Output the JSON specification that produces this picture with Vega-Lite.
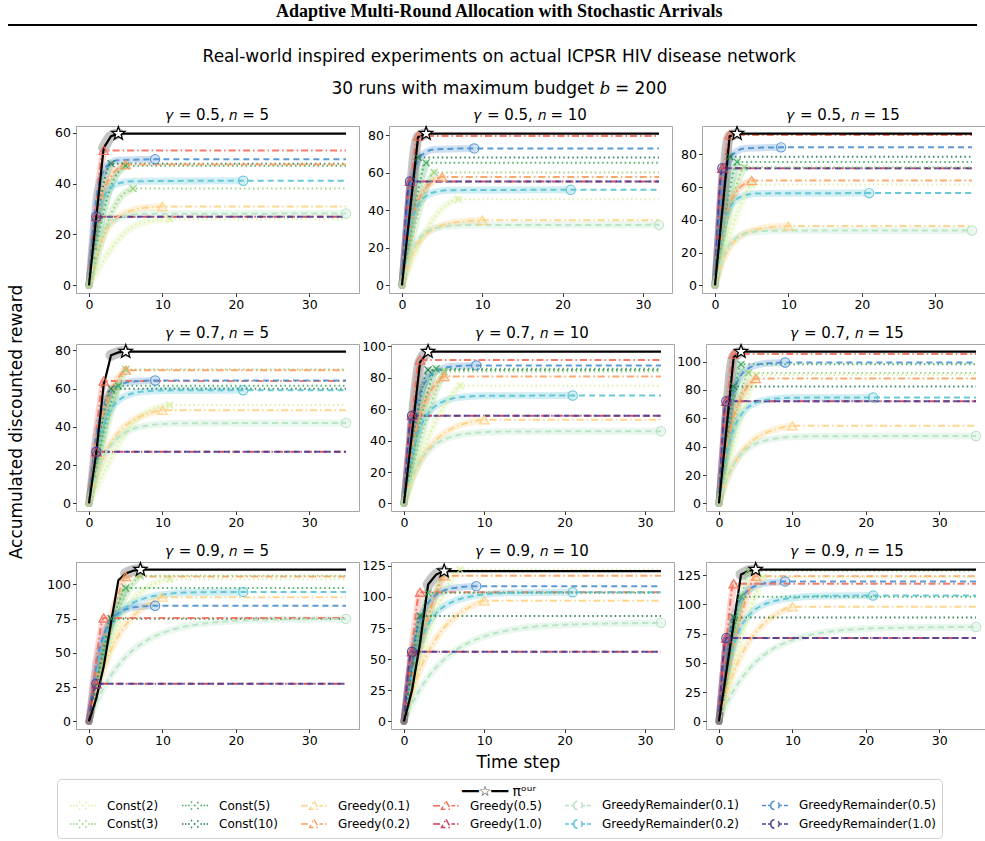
{
  "$schema": "https://vega.github.io/schema/vega-lite/v6.json",
  "padding": {"left": 8, "right": 0, "top": 3, "bottom": 0},
  "background": "white",
  "title": {"text": "Adaptive Multi-Round Allocation with Stochastic Arrivals", "font": "Liberation Serif", "fontSize": 18, "fontWeight": "bold", "anchor": "middle", "offset": 1, "color": "black"},
  "datasets": {
    "methods": [
      {"m": "O", "name": "πᵒᵘʳ", "f": "O"},
      {"m": "C2", "name": "Const(2)", "f": "C"},
      {"m": "C3", "name": "Const(3)", "f": "C"},
      {"m": "C5", "name": "Const(5)", "f": "C"},
      {"m": "C10", "name": "Const(10)", "f": "C"},
      {"m": "G1", "name": "Greedy(0.1)", "f": "G"},
      {"m": "G2", "name": "Greedy(0.2)", "f": "G"},
      {"m": "G5", "name": "Greedy(0.5)", "f": "G"},
      {"m": "G10", "name": "Greedy(1.0)", "f": "G"},
      {"m": "R1", "name": "GreedyRemainder(0.1)", "f": "R"},
      {"m": "R2", "name": "GreedyRemainder(0.2)", "f": "R"},
      {"m": "R5", "name": "GreedyRemainder(0.5)", "f": "R"},
      {"m": "R10", "name": "GreedyRemainder(1.0)", "f": "R"}
    ],
    "panels": [
      {"p": 1, "g": 0.5, "n": 5, "lab": "𝛾 = 0.5, 𝑛 = 5"}, {"p": 2, "g": 0.5, "n": 10, "lab": "𝛾 = 0.5, 𝑛 = 10"}, {"p": 3, "g": 0.5, "n": 15, "lab": "𝛾 = 0.5, 𝑛 = 15"},
      {"p": 4, "g": 0.7, "n": 5, "lab": "𝛾 = 0.7, 𝑛 = 5"}, {"p": 5, "g": 0.7, "n": 10, "lab": "𝛾 = 0.7, 𝑛 = 10"}, {"p": 6, "g": 0.7, "n": 15, "lab": "𝛾 = 0.7, 𝑛 = 15"},
      {"p": 7, "g": 0.9, "n": 5, "lab": "𝛾 = 0.9, 𝑛 = 5"}, {"p": 8, "g": 0.9, "n": 10, "lab": "𝛾 = 0.9, 𝑛 = 10"}, {"p": 9, "g": 0.9, "n": 15, "lab": "𝛾 = 0.9, 𝑛 = 15"}
    ],
    "curves": [
      {"p":1,"m":"O","t":0,"v":0},{"p":1,"m":"O","t":1,"v":27},{"p":1,"m":"O","t":2,"v":54},{"p":1,"m":"O","t":3,"v":58.6},{"p":1,"m":"O","t":4,"v":59.6,"k":1},{"p":1,"m":"O","t":35,"v":59.6},
      {"p":1,"m":"G5","t":0,"v":0},{"p":1,"m":"G5","t":1,"v":33},{"p":1,"m":"G5","t":2,"v":53,"k":1},{"p":1,"m":"G5","t":35,"v":53},
      {"p":1,"m":"G10","t":0,"v":0},{"p":1,"m":"G10","t":1,"v":27,"k":1},{"p":1,"m":"G10","t":35,"v":27},
      {"p":1,"m":"R10","t":0,"v":0},{"p":1,"m":"R10","t":1,"v":27,"k":1},{"p":1,"m":"R10","t":35,"v":27},
      {"p":1,"m":"R5","t":0,"v":0},{"p":1,"m":"R5","t":1,"v":34.7},{"p":1,"m":"R5","t":2,"v":45},{"p":1,"m":"R5","t":3,"v":48.2},{"p":1,"m":"R5","t":4,"v":49.1},{"p":1,"m":"R5","t":9,"v":49.5,"k":1},{"p":1,"m":"R5","t":35,"v":49.5},
      {"p":1,"m":"C10","t":0,"v":0},{"p":1,"m":"C10","t":1,"v":22},{"p":1,"m":"C10","t":2,"v":40},{"p":1,"m":"C10","t":3,"v":47.8,"k":1},{"p":1,"m":"C10","t":35,"v":47.8},
      {"p":1,"m":"C5","t":0,"v":0},{"p":1,"m":"C5","t":1,"v":15},{"p":1,"m":"C5","t":2,"v":29},{"p":1,"m":"C5","t":3,"v":39},{"p":1,"m":"C5","t":4,"v":44.5},{"p":1,"m":"C5","t":5,"v":47,"k":1},{"p":1,"m":"C5","t":35,"v":47},
      {"p":1,"m":"G2","t":0,"v":0},{"p":1,"m":"G2","t":1,"v":24.5},{"p":1,"m":"G2","t":2,"v":36.8},{"p":1,"m":"G2","t":3,"v":42.9},{"p":1,"m":"G2","t":4,"v":46},{"p":1,"m":"G2","t":5,"v":47.5,"k":1},{"p":1,"m":"G2","t":35,"v":47.5},
      {"p":1,"m":"R2","t":0,"v":0},{"p":1,"m":"R2","t":1,"v":24.7},{"p":1,"m":"R2","t":2,"v":34.5},{"p":1,"m":"R2","t":3,"v":38.5},{"p":1,"m":"R2","t":4,"v":40},{"p":1,"m":"R2","t":6,"v":40.9},{"p":1,"m":"R2","t":21,"v":41.1,"k":1},{"p":1,"m":"R2","t":35,"v":41.1},
      {"p":1,"m":"C3","t":0,"v":0},{"p":1,"m":"C3","t":1,"v":10},{"p":1,"m":"C3","t":2,"v":20},{"p":1,"m":"C3","t":3,"v":28},{"p":1,"m":"C3","t":4,"v":33.5},{"p":1,"m":"C3","t":5,"v":36.5},{"p":1,"m":"C3","t":6,"v":38,"k":1},{"p":1,"m":"C3","t":35,"v":38},
      {"p":1,"m":"G1","t":0,"v":0},{"p":1,"m":"G1","t":1,"v":12.5},{"p":1,"m":"G1","t":2,"v":19.9},{"p":1,"m":"G1","t":3,"v":24.3},{"p":1,"m":"G1","t":4,"v":27},{"p":1,"m":"G1","t":5,"v":28.6},{"p":1,"m":"G1","t":6,"v":29.6},{"p":1,"m":"G1","t":8,"v":30.6},{"p":1,"m":"G1","t":10,"v":31,"k":1},{"p":1,"m":"G1","t":35,"v":31},
      {"p":1,"m":"R1","t":0,"v":0},{"p":1,"m":"R1","t":1,"v":14.1},{"p":1,"m":"R1","t":2,"v":21.2},{"p":1,"m":"R1","t":3,"v":24.7},{"p":1,"m":"R1","t":4,"v":26.4},{"p":1,"m":"R1","t":5,"v":27.3},{"p":1,"m":"R1","t":6,"v":27.8},{"p":1,"m":"R1","t":8,"v":28.1},{"p":1,"m":"R1","t":35,"v":28.2,"k":1},
      {"p":1,"m":"C2","t":0,"v":0},{"p":1,"m":"C2","t":1,"v":5},{"p":1,"m":"C2","t":2,"v":10},{"p":1,"m":"C2","t":3,"v":14.5},{"p":1,"m":"C2","t":4,"v":18},{"p":1,"m":"C2","t":5,"v":21},{"p":1,"m":"C2","t":6,"v":23},{"p":1,"m":"C2","t":8,"v":25.2},{"p":1,"m":"C2","t":11,"v":26,"k":1},{"p":1,"m":"C2","t":35,"v":26},

      {"p":2,"m":"O","t":0,"v":0},{"p":2,"m":"O","t":1,"v":40},{"p":2,"m":"O","t":2,"v":79},{"p":2,"m":"O","t":3,"v":81,"k":1},{"p":2,"m":"O","t":32,"v":81},
      {"p":2,"m":"G5","t":0,"v":0},{"p":2,"m":"G5","t":1,"v":48},{"p":2,"m":"G5","t":2,"v":79.7,"k":1},{"p":2,"m":"G5","t":32,"v":79.7},
      {"p":2,"m":"G10","t":0,"v":0},{"p":2,"m":"G10","t":1,"v":55.5,"k":1},{"p":2,"m":"G10","t":32,"v":55.5},
      {"p":2,"m":"R10","t":0,"v":0},{"p":2,"m":"R10","t":1,"v":55.5,"k":1},{"p":2,"m":"R10","t":32,"v":55.5},
      {"p":2,"m":"R5","t":0,"v":0},{"p":2,"m":"R5","t":1,"v":51.2},{"p":2,"m":"R5","t":2,"v":66.5},{"p":2,"m":"R5","t":3,"v":71.1},{"p":2,"m":"R5","t":4,"v":72.5},{"p":2,"m":"R5","t":9,"v":73.1,"k":1},{"p":2,"m":"R5","t":32,"v":73.1},
      {"p":2,"m":"C10","t":0,"v":0},{"p":2,"m":"C10","t":1,"v":38},{"p":2,"m":"C10","t":2,"v":68.3,"k":1},{"p":2,"m":"C10","t":32,"v":68.3},
      {"p":2,"m":"C5","t":0,"v":0},{"p":2,"m":"C5","t":1,"v":26},{"p":2,"m":"C5","t":2,"v":50},{"p":2,"m":"C5","t":3,"v":65.4,"k":1},{"p":2,"m":"C5","t":32,"v":65.4},
      {"p":2,"m":"C3","t":0,"v":0},{"p":2,"m":"C3","t":1,"v":20},{"p":2,"m":"C3","t":2,"v":38},{"p":2,"m":"C3","t":3,"v":52},{"p":2,"m":"C3","t":4,"v":60.3,"k":1},{"p":2,"m":"C3","t":32,"v":60.3},
      {"p":2,"m":"G2","t":0,"v":0},{"p":2,"m":"G2","t":1,"v":29.8},{"p":2,"m":"G2","t":2,"v":44.7},{"p":2,"m":"G2","t":3,"v":52.2},{"p":2,"m":"G2","t":4,"v":55.9},{"p":2,"m":"G2","t":5,"v":57.8,"k":1},{"p":2,"m":"G2","t":32,"v":57.8},
      {"p":2,"m":"R2","t":0,"v":0},{"p":2,"m":"R2","t":1,"v":30.6},{"p":2,"m":"R2","t":2,"v":42.8},{"p":2,"m":"R2","t":3,"v":47.7},{"p":2,"m":"R2","t":4,"v":49.7},{"p":2,"m":"R2","t":6,"v":50.8},{"p":2,"m":"R2","t":21,"v":51,"k":1},{"p":2,"m":"R2","t":32,"v":51},
      {"p":2,"m":"C2","t":0,"v":0},{"p":2,"m":"C2","t":1,"v":11},{"p":2,"m":"C2","t":2,"v":21},{"p":2,"m":"C2","t":3,"v":29.5},{"p":2,"m":"C2","t":4,"v":36},{"p":2,"m":"C2","t":5,"v":41},{"p":2,"m":"C2","t":6,"v":44.3},{"p":2,"m":"C2","t":7,"v":46,"k":1},{"p":2,"m":"C2","t":32,"v":46},
      {"p":2,"m":"G1","t":0,"v":0},{"p":2,"m":"G1","t":1,"v":14},{"p":2,"m":"G1","t":2,"v":22.4},{"p":2,"m":"G1","t":3,"v":27.4},{"p":2,"m":"G1","t":4,"v":30.3},{"p":2,"m":"G1","t":5,"v":32.1},{"p":2,"m":"G1","t":6,"v":33.2},{"p":2,"m":"G1","t":8,"v":34.3},{"p":2,"m":"G1","t":10,"v":34.8,"k":1},{"p":2,"m":"G1","t":32,"v":34.8},
      {"p":2,"m":"R1","t":0,"v":0},{"p":2,"m":"R1","t":1,"v":16.2},{"p":2,"m":"R1","t":2,"v":24.2},{"p":2,"m":"R1","t":3,"v":28.3},{"p":2,"m":"R1","t":4,"v":30.3},{"p":2,"m":"R1","t":5,"v":31.3},{"p":2,"m":"R1","t":6,"v":31.8},{"p":2,"m":"R1","t":8,"v":32.2},{"p":2,"m":"R1","t":32,"v":32.3,"k":1},

      {"p":3,"m":"O","t":0,"v":0},{"p":3,"m":"O","t":1,"v":46},{"p":3,"m":"O","t":2,"v":91},{"p":3,"m":"O","t":3,"v":92.6,"k":1},{"p":3,"m":"O","t":35,"v":92.6},
      {"p":3,"m":"G5","t":0,"v":0},{"p":3,"m":"G5","t":1,"v":55},{"p":3,"m":"G5","t":2,"v":91.8,"k":1},{"p":3,"m":"G5","t":35,"v":91.8},
      {"p":3,"m":"G10","t":0,"v":0},{"p":3,"m":"G10","t":1,"v":71.5,"k":1},{"p":3,"m":"G10","t":35,"v":71.5},
      {"p":3,"m":"R10","t":0,"v":0},{"p":3,"m":"R10","t":1,"v":71.5,"k":1},{"p":3,"m":"R10","t":35,"v":71.5},
      {"p":3,"m":"R5","t":0,"v":0},{"p":3,"m":"R5","t":1,"v":58.9},{"p":3,"m":"R5","t":2,"v":76.6},{"p":3,"m":"R5","t":3,"v":81.9},{"p":3,"m":"R5","t":4,"v":83.5},{"p":3,"m":"R5","t":9,"v":84.2,"k":1},{"p":3,"m":"R5","t":35,"v":84.2},
      {"p":3,"m":"C10","t":0,"v":0},{"p":3,"m":"C10","t":1,"v":44},{"p":3,"m":"C10","t":2,"v":78.5,"k":1},{"p":3,"m":"C10","t":35,"v":78.5},
      {"p":3,"m":"C5","t":0,"v":0},{"p":3,"m":"C5","t":1,"v":30},{"p":3,"m":"C5","t":2,"v":58},{"p":3,"m":"C5","t":3,"v":75.3,"k":1},{"p":3,"m":"C5","t":35,"v":75.3},
      {"p":3,"m":"C3","t":0,"v":0},{"p":3,"m":"C3","t":1,"v":24},{"p":3,"m":"C3","t":2,"v":45},{"p":3,"m":"C3","t":3,"v":62},{"p":3,"m":"C3","t":4,"v":72,"k":1},{"p":3,"m":"C3","t":35,"v":72},
      {"p":3,"m":"G2","t":0,"v":0},{"p":3,"m":"G2","t":1,"v":33},{"p":3,"m":"G2","t":2,"v":49.5},{"p":3,"m":"G2","t":3,"v":57.8},{"p":3,"m":"G2","t":4,"v":61.9},{"p":3,"m":"G2","t":5,"v":64,"k":1},{"p":3,"m":"G2","t":35,"v":64},
      {"p":3,"m":"R2","t":0,"v":0},{"p":3,"m":"R2","t":1,"v":33.8},{"p":3,"m":"R2","t":2,"v":47.3},{"p":3,"m":"R2","t":3,"v":52.7},{"p":3,"m":"R2","t":4,"v":54.8},{"p":3,"m":"R2","t":6,"v":56.1},{"p":3,"m":"R2","t":21,"v":56.3,"k":1},{"p":3,"m":"R2","t":35,"v":56.3},
      {"p":3,"m":"C2","t":0,"v":0},{"p":3,"m":"C2","t":1,"v":16},{"p":3,"m":"C2","t":2,"v":31},{"p":3,"m":"C2","t":3,"v":44},{"p":3,"m":"C2","t":4,"v":54},{"p":3,"m":"C2","t":5,"v":61.6,"k":1},{"p":3,"m":"C2","t":35,"v":61.6},
      {"p":3,"m":"G1","t":0,"v":0},{"p":3,"m":"G1","t":1,"v":14.6},{"p":3,"m":"G1","t":2,"v":23.3},{"p":3,"m":"G1","t":3,"v":28.5},{"p":3,"m":"G1","t":4,"v":31.6},{"p":3,"m":"G1","t":5,"v":33.4},{"p":3,"m":"G1","t":6,"v":34.6},{"p":3,"m":"G1","t":8,"v":35.7},{"p":3,"m":"G1","t":10,"v":36.2,"k":1},{"p":3,"m":"G1","t":35,"v":36.2},
      {"p":3,"m":"R1","t":0,"v":0},{"p":3,"m":"R1","t":1,"v":16.8},{"p":3,"m":"R1","t":2,"v":25.1},{"p":3,"m":"R1","t":3,"v":29.3},{"p":3,"m":"R1","t":4,"v":31.4},{"p":3,"m":"R1","t":5,"v":32.5},{"p":3,"m":"R1","t":6,"v":33},{"p":3,"m":"R1","t":8,"v":33.4},{"p":3,"m":"R1","t":35,"v":33.5,"k":1},

      {"p":4,"m":"O","t":0,"v":0},{"p":4,"m":"O","t":1,"v":27},{"p":4,"m":"O","t":2,"v":62},{"p":4,"m":"O","t":3,"v":77.5},{"p":4,"m":"O","t":4,"v":79},{"p":4,"m":"O","t":5,"v":79.4,"k":1},{"p":4,"m":"O","t":35,"v":79.4},
      {"p":4,"m":"G5","t":0,"v":0},{"p":4,"m":"G5","t":1,"v":38},{"p":4,"m":"G5","t":2,"v":64,"k":1},{"p":4,"m":"G5","t":35,"v":64},
      {"p":4,"m":"G10","t":0,"v":0},{"p":4,"m":"G10","t":1,"v":27,"k":1},{"p":4,"m":"G10","t":35,"v":27},
      {"p":4,"m":"R10","t":0,"v":0},{"p":4,"m":"R10","t":1,"v":27,"k":1},{"p":4,"m":"R10","t":35,"v":27},
      {"p":4,"m":"R5","t":0,"v":0},{"p":4,"m":"R5","t":1,"v":35.4},{"p":4,"m":"R5","t":2,"v":51.3},{"p":4,"m":"R5","t":3,"v":58.4},{"p":4,"m":"R5","t":4,"v":61.7},{"p":4,"m":"R5","t":5,"v":63.1},{"p":4,"m":"R5","t":6,"v":63.8},{"p":4,"m":"R5","t":9,"v":64.3,"k":1},{"p":4,"m":"R5","t":35,"v":64.3},
      {"p":4,"m":"C10","t":0,"v":0},{"p":4,"m":"C10","t":1,"v":25},{"p":4,"m":"C10","t":2,"v":47},{"p":4,"m":"C10","t":3,"v":60,"k":1},{"p":4,"m":"C10","t":35,"v":60},
      {"p":4,"m":"C5","t":0,"v":0},{"p":4,"m":"C5","t":1,"v":19},{"p":4,"m":"C5","t":2,"v":38},{"p":4,"m":"C5","t":3,"v":53},{"p":4,"m":"C5","t":4,"v":61.5,"k":1},{"p":4,"m":"C5","t":35,"v":61.5},
      {"p":4,"m":"C3","t":0,"v":0},{"p":4,"m":"C3","t":1,"v":16},{"p":4,"m":"C3","t":2,"v":33},{"p":4,"m":"C3","t":3,"v":48},{"p":4,"m":"C3","t":4,"v":61},{"p":4,"m":"C3","t":5,"v":70,"k":1},{"p":4,"m":"C3","t":35,"v":70},
      {"p":4,"m":"G2","t":0,"v":0},{"p":4,"m":"G2","t":1,"v":30.2},{"p":4,"m":"G2","t":2,"v":48.4},{"p":4,"m":"G2","t":3,"v":59.3},{"p":4,"m":"G2","t":4,"v":65.8},{"p":4,"m":"G2","t":5,"v":69.7,"k":1},{"p":4,"m":"G2","t":35,"v":69.7},
      {"p":4,"m":"R2","t":0,"v":0},{"p":4,"m":"R2","t":1,"v":26.6},{"p":4,"m":"R2","t":2,"v":41.3},{"p":4,"m":"R2","t":3,"v":49.4},{"p":4,"m":"R2","t":4,"v":53.8},{"p":4,"m":"R2","t":5,"v":56.2},{"p":4,"m":"R2","t":6,"v":57.6},{"p":4,"m":"R2","t":8,"v":58.7},{"p":4,"m":"R2","t":10,"v":59.1},{"p":4,"m":"R2","t":21,"v":59.2,"k":1},{"p":4,"m":"R2","t":35,"v":59.2},
      {"p":4,"m":"C2","t":0,"v":0},{"p":4,"m":"C2","t":1,"v":8},{"p":4,"m":"C2","t":2,"v":16},{"p":4,"m":"C2","t":3,"v":24},{"p":4,"m":"C2","t":4,"v":31},{"p":4,"m":"C2","t":5,"v":37},{"p":4,"m":"C2","t":6,"v":42},{"p":4,"m":"C2","t":8,"v":48},{"p":4,"m":"C2","t":11,"v":51.5,"k":1},{"p":4,"m":"C2","t":35,"v":51.5},
      {"p":4,"m":"G1","t":0,"v":0},{"p":4,"m":"G1","t":1,"v":14.2},{"p":4,"m":"G1","t":2,"v":24.4},{"p":4,"m":"G1","t":3,"v":31.7},{"p":4,"m":"G1","t":4,"v":37},{"p":4,"m":"G1","t":5,"v":40.8},{"p":4,"m":"G1","t":6,"v":43.5},{"p":4,"m":"G1","t":8,"v":46.9},{"p":4,"m":"G1","t":10,"v":48.7,"k":1},{"p":4,"m":"G1","t":35,"v":48.7},
      {"p":4,"m":"R1","t":0,"v":0},{"p":4,"m":"R1","t":1,"v":14.7},{"p":4,"m":"R1","t":2,"v":24.3},{"p":4,"m":"R1","t":3,"v":30.5},{"p":4,"m":"R1","t":4,"v":34.6},{"p":4,"m":"R1","t":5,"v":37.2},{"p":4,"m":"R1","t":6,"v":38.9},{"p":4,"m":"R1","t":8,"v":40.8},{"p":4,"m":"R1","t":10,"v":41.5},{"p":4,"m":"R1","t":13,"v":41.9},{"p":4,"m":"R1","t":35,"v":42.1,"k":1},

      {"p":5,"m":"O","t":0,"v":0},{"p":5,"m":"O","t":1,"v":45},{"p":5,"m":"O","t":2,"v":90},{"p":5,"m":"O","t":3,"v":96.7,"k":1},{"p":5,"m":"O","t":32,"v":96.7},
      {"p":5,"m":"G5","t":0,"v":0},{"p":5,"m":"G5","t":1,"v":55},{"p":5,"m":"G5","t":2,"v":91.4,"k":1},{"p":5,"m":"G5","t":32,"v":91.4},
      {"p":5,"m":"G10","t":0,"v":0},{"p":5,"m":"G10","t":1,"v":55.9,"k":1},{"p":5,"m":"G10","t":32,"v":55.9},
      {"p":5,"m":"R10","t":0,"v":0},{"p":5,"m":"R10","t":1,"v":55.9,"k":1},{"p":5,"m":"R10","t":32,"v":55.9},
      {"p":5,"m":"R5","t":0,"v":0},{"p":5,"m":"R5","t":1,"v":48.3},{"p":5,"m":"R5","t":2,"v":70.1},{"p":5,"m":"R5","t":3,"v":79.9},{"p":5,"m":"R5","t":4,"v":84.3},{"p":5,"m":"R5","t":5,"v":86.3},{"p":5,"m":"R5","t":6,"v":87.2},{"p":5,"m":"R5","t":9,"v":87.9,"k":1},{"p":5,"m":"R5","t":32,"v":87.9},
      {"p":5,"m":"C10","t":0,"v":0},{"p":5,"m":"C10","t":1,"v":36},{"p":5,"m":"C10","t":2,"v":66},{"p":5,"m":"C10","t":3,"v":85,"k":1},{"p":5,"m":"C10","t":32,"v":85},
      {"p":5,"m":"C5","t":0,"v":0},{"p":5,"m":"C5","t":1,"v":27},{"p":5,"m":"C5","t":2,"v":52},{"p":5,"m":"C5","t":3,"v":72},{"p":5,"m":"C5","t":4,"v":85.8,"k":1},{"p":5,"m":"C5","t":32,"v":85.8},
      {"p":5,"m":"C3","t":0,"v":0},{"p":5,"m":"C3","t":1,"v":20},{"p":5,"m":"C3","t":2,"v":40},{"p":5,"m":"C3","t":3,"v":57},{"p":5,"m":"C3","t":4,"v":72},{"p":5,"m":"C3","t":5,"v":84,"k":1},{"p":5,"m":"C3","t":32,"v":84},
      {"p":5,"m":"G2","t":0,"v":0},{"p":5,"m":"G2","t":1,"v":35.1},{"p":5,"m":"G2","t":2,"v":56.1},{"p":5,"m":"G2","t":3,"v":68.7},{"p":5,"m":"G2","t":4,"v":76.3},{"p":5,"m":"G2","t":5,"v":80.8,"k":1},{"p":5,"m":"G2","t":32,"v":80.8},
      {"p":5,"m":"C2","t":0,"v":0},{"p":5,"m":"C2","t":1,"v":15},{"p":5,"m":"C2","t":2,"v":29},{"p":5,"m":"C2","t":3,"v":42},{"p":5,"m":"C2","t":4,"v":53},{"p":5,"m":"C2","t":5,"v":62},{"p":5,"m":"C2","t":6,"v":69.5},{"p":5,"m":"C2","t":7,"v":75,"k":1},{"p":5,"m":"C2","t":32,"v":75},
      {"p":5,"m":"R2","t":0,"v":0},{"p":5,"m":"R2","t":1,"v":30.9},{"p":5,"m":"R2","t":2,"v":47.9},{"p":5,"m":"R2","t":3,"v":57.3},{"p":5,"m":"R2","t":4,"v":62.4},{"p":5,"m":"R2","t":5,"v":65.2},{"p":5,"m":"R2","t":6,"v":66.8},{"p":5,"m":"R2","t":8,"v":68.1},{"p":5,"m":"R2","t":10,"v":68.5},{"p":5,"m":"R2","t":21,"v":68.7,"k":1},{"p":5,"m":"R2","t":32,"v":68.7},
      {"p":5,"m":"G1","t":0,"v":0},{"p":5,"m":"G1","t":1,"v":15.5},{"p":5,"m":"G1","t":2,"v":26.7},{"p":5,"m":"G1","t":3,"v":34.7},{"p":5,"m":"G1","t":4,"v":40.5},{"p":5,"m":"G1","t":5,"v":44.6},{"p":5,"m":"G1","t":6,"v":47.7},{"p":5,"m":"G1","t":8,"v":51.4},{"p":5,"m":"G1","t":10,"v":53.3,"k":1},{"p":5,"m":"G1","t":32,"v":53.3},
      {"p":5,"m":"R1","t":0,"v":0},{"p":5,"m":"R1","t":1,"v":16.1},{"p":5,"m":"R1","t":2,"v":26.6},{"p":5,"m":"R1","t":3,"v":33.4},{"p":5,"m":"R1","t":4,"v":37.8},{"p":5,"m":"R1","t":5,"v":40.7},{"p":5,"m":"R1","t":6,"v":42.5},{"p":5,"m":"R1","t":8,"v":44.5},{"p":5,"m":"R1","t":10,"v":45.4},{"p":5,"m":"R1","t":13,"v":45.8},{"p":5,"m":"R1","t":32,"v":46,"k":1},

      {"p":6,"m":"O","t":0,"v":0},{"p":6,"m":"O","t":1,"v":52},{"p":6,"m":"O","t":2,"v":103},{"p":6,"m":"O","t":3,"v":107,"k":1},{"p":6,"m":"O","t":35,"v":107},
      {"p":6,"m":"G5","t":0,"v":0},{"p":6,"m":"G5","t":1,"v":63},{"p":6,"m":"G5","t":2,"v":105.3,"k":1},{"p":6,"m":"G5","t":35,"v":105.3},
      {"p":6,"m":"G10","t":0,"v":0},{"p":6,"m":"G10","t":1,"v":72,"k":1},{"p":6,"m":"G10","t":35,"v":72},
      {"p":6,"m":"R10","t":0,"v":0},{"p":6,"m":"R10","t":1,"v":72,"k":1},{"p":6,"m":"R10","t":35,"v":72},
      {"p":6,"m":"R5","t":0,"v":0},{"p":6,"m":"R5","t":1,"v":54.6},{"p":6,"m":"R5","t":2,"v":79.2},{"p":6,"m":"R5","t":3,"v":90.3},{"p":6,"m":"R5","t":4,"v":95.2},{"p":6,"m":"R5","t":5,"v":97.5},{"p":6,"m":"R5","t":6,"v":98.5},{"p":6,"m":"R5","t":9,"v":99.3,"k":1},{"p":6,"m":"R5","t":35,"v":99.3},
      {"p":6,"m":"C10","t":0,"v":0},{"p":6,"m":"C10","t":1,"v":45},{"p":6,"m":"C10","t":2,"v":82.4,"k":1},{"p":6,"m":"C10","t":35,"v":82.4},
      {"p":6,"m":"C5","t":0,"v":0},{"p":6,"m":"C5","t":1,"v":38},{"p":6,"m":"C5","t":2,"v":74},{"p":6,"m":"C5","t":3,"v":98,"k":1},{"p":6,"m":"C5","t":35,"v":98},
      {"p":6,"m":"C3","t":0,"v":0},{"p":6,"m":"C3","t":1,"v":28},{"p":6,"m":"C3","t":2,"v":55},{"p":6,"m":"C3","t":3,"v":77},{"p":6,"m":"C3","t":4,"v":92,"k":1},{"p":6,"m":"C3","t":35,"v":92},
      {"p":6,"m":"C2","t":0,"v":0},{"p":6,"m":"C2","t":1,"v":21},{"p":6,"m":"C2","t":2,"v":42},{"p":6,"m":"C2","t":3,"v":61},{"p":6,"m":"C2","t":4,"v":77},{"p":6,"m":"C2","t":5,"v":90.5,"k":1},{"p":6,"m":"C2","t":35,"v":90.5},
      {"p":6,"m":"G2","t":0,"v":0},{"p":6,"m":"G2","t":1,"v":38.2},{"p":6,"m":"G2","t":2,"v":61.1},{"p":6,"m":"G2","t":3,"v":74.8},{"p":6,"m":"G2","t":4,"v":83.1},{"p":6,"m":"G2","t":5,"v":88,"k":1},{"p":6,"m":"G2","t":35,"v":88},
      {"p":6,"m":"R2","t":0,"v":0},{"p":6,"m":"R2","t":1,"v":33.6},{"p":6,"m":"R2","t":2,"v":52.1},{"p":6,"m":"R2","t":3,"v":62.3},{"p":6,"m":"R2","t":4,"v":67.9},{"p":6,"m":"R2","t":5,"v":70.9},{"p":6,"m":"R2","t":6,"v":72.6},{"p":6,"m":"R2","t":8,"v":74},{"p":6,"m":"R2","t":10,"v":74.5},{"p":6,"m":"R2","t":21,"v":74.7,"k":1},{"p":6,"m":"R2","t":35,"v":74.7},
      {"p":6,"m":"G1","t":0,"v":0},{"p":6,"m":"G1","t":1,"v":15.9},{"p":6,"m":"G1","t":2,"v":27.4},{"p":6,"m":"G1","t":3,"v":35.6},{"p":6,"m":"G1","t":4,"v":41.6},{"p":6,"m":"G1","t":5,"v":45.8},{"p":6,"m":"G1","t":6,"v":48.9},{"p":6,"m":"G1","t":8,"v":52.7},{"p":6,"m":"G1","t":10,"v":54.7,"k":1},{"p":6,"m":"G1","t":35,"v":54.7},
      {"p":6,"m":"R1","t":0,"v":0},{"p":6,"m":"R1","t":1,"v":16.6},{"p":6,"m":"R1","t":2,"v":27.4},{"p":6,"m":"R1","t":3,"v":34.5},{"p":6,"m":"R1","t":4,"v":39},{"p":6,"m":"R1","t":5,"v":42},{"p":6,"m":"R1","t":6,"v":43.9},{"p":6,"m":"R1","t":8,"v":46},{"p":6,"m":"R1","t":10,"v":46.9},{"p":6,"m":"R1","t":13,"v":47.3},{"p":6,"m":"R1","t":35,"v":47.5,"k":1},

      {"p":7,"m":"O","t":0,"v":0},{"p":7,"m":"O","t":1,"v":17},{"p":7,"m":"O","t":2,"v":40},{"p":7,"m":"O","t":3,"v":72},{"p":7,"m":"O","t":4,"v":103},{"p":7,"m":"O","t":5,"v":108},{"p":7,"m":"O","t":6,"v":110},{"p":7,"m":"O","t":7,"v":110.8,"k":1},{"p":7,"m":"O","t":35,"v":110.8},
      {"p":7,"m":"G2","t":0,"v":0},{"p":7,"m":"G2","t":1,"v":30},{"p":7,"m":"G2","t":2,"v":55},{"p":7,"m":"G2","t":3,"v":76},{"p":7,"m":"G2","t":4,"v":93},{"p":7,"m":"G2","t":5,"v":105.8,"k":1},{"p":7,"m":"G2","t":35,"v":105.8},
      {"p":7,"m":"C3","t":0,"v":0},{"p":7,"m":"C3","t":1,"v":24},{"p":7,"m":"C3","t":2,"v":46},{"p":7,"m":"C3","t":3,"v":65},{"p":7,"m":"C3","t":4,"v":80},{"p":7,"m":"C3","t":5,"v":92},{"p":7,"m":"C3","t":6,"v":101},{"p":7,"m":"C3","t":7,"v":106.3,"k":1},{"p":7,"m":"C3","t":35,"v":106.3},
      {"p":7,"m":"C2","t":0,"v":0},{"p":7,"m":"C2","t":1,"v":20},{"p":7,"m":"C2","t":2,"v":39},{"p":7,"m":"C2","t":3,"v":56},{"p":7,"m":"C2","t":4,"v":70},{"p":7,"m":"C2","t":5,"v":81},{"p":7,"m":"C2","t":6,"v":89},{"p":7,"m":"C2","t":8,"v":98},{"p":7,"m":"C2","t":10,"v":103},{"p":7,"m":"C2","t":11,"v":103.8,"k":1},{"p":7,"m":"C2","t":35,"v":103.8},
      {"p":7,"m":"C5","t":0,"v":0},{"p":7,"m":"C5","t":1,"v":26},{"p":7,"m":"C5","t":2,"v":50},{"p":7,"m":"C5","t":3,"v":71},{"p":7,"m":"C5","t":4,"v":86},{"p":7,"m":"C5","t":5,"v":97.3,"k":1},{"p":7,"m":"C5","t":35,"v":97.3},
      {"p":7,"m":"C10","t":0,"v":0},{"p":7,"m":"C10","t":1,"v":28},{"p":7,"m":"C10","t":2,"v":54},{"p":7,"m":"C10","t":3,"v":75,"k":1},{"p":7,"m":"C10","t":35,"v":75},
      {"p":7,"m":"R2","t":0,"v":0},{"p":7,"m":"R2","t":1,"v":35},{"p":7,"m":"R2","t":2,"v":58},{"p":7,"m":"R2","t":3,"v":71},{"p":7,"m":"R2","t":4,"v":78},{"p":7,"m":"R2","t":5,"v":83},{"p":7,"m":"R2","t":6,"v":86.5},{"p":7,"m":"R2","t":8,"v":90.5},{"p":7,"m":"R2","t":10,"v":92.5},{"p":7,"m":"R2","t":13,"v":94},{"p":7,"m":"R2","t":21,"v":94.5,"k":1},{"p":7,"m":"R2","t":35,"v":94.5},
      {"p":7,"m":"G1","t":0,"v":0},{"p":7,"m":"G1","t":1,"v":21.8},{"p":7,"m":"G1","t":2,"v":38.8},{"p":7,"m":"G1","t":3,"v":52},{"p":7,"m":"G1","t":4,"v":62.3},{"p":7,"m":"G1","t":5,"v":70.4},{"p":7,"m":"G1","t":6,"v":76.7},{"p":7,"m":"G1","t":8,"v":85.4},{"p":7,"m":"G1","t":10,"v":90.7,"k":1},{"p":7,"m":"G1","t":35,"v":90.7},
      {"p":7,"m":"R5","t":0,"v":0},{"p":7,"m":"R5","t":1,"v":42.2},{"p":7,"m":"R5","t":2,"v":63.3},{"p":7,"m":"R5","t":3,"v":73.9},{"p":7,"m":"R5","t":4,"v":79.1},{"p":7,"m":"R5","t":5,"v":81.8},{"p":7,"m":"R5","t":6,"v":83.1},{"p":7,"m":"R5","t":9,"v":84.4,"k":1},{"p":7,"m":"R5","t":35,"v":84.4},
      {"p":7,"m":"G5","t":0,"v":0},{"p":7,"m":"G5","t":1,"v":45},{"p":7,"m":"G5","t":2,"v":75.5,"k":1},{"p":7,"m":"G5","t":35,"v":75.5},
      {"p":7,"m":"R1","t":0,"v":0},{"p":7,"m":"R1","t":1,"v":13.5},{"p":7,"m":"R1","t":2,"v":24.5},{"p":7,"m":"R1","t":3,"v":33.6},{"p":7,"m":"R1","t":4,"v":41},{"p":7,"m":"R1","t":5,"v":47.1},{"p":7,"m":"R1","t":6,"v":52.1},{"p":7,"m":"R1","t":8,"v":59.5},{"p":7,"m":"R1","t":10,"v":64.5},{"p":7,"m":"R1","t":12,"v":67.9},{"p":7,"m":"R1","t":15,"v":71},{"p":7,"m":"R1","t":20,"v":73.4},{"p":7,"m":"R1","t":25,"v":74.3},{"p":7,"m":"R1","t":35,"v":74.8,"k":1},
      {"p":7,"m":"G10","t":0,"v":0},{"p":7,"m":"G10","t":1,"v":27.5,"k":1},{"p":7,"m":"G10","t":35,"v":27.5},
      {"p":7,"m":"R10","t":0,"v":0},{"p":7,"m":"R10","t":1,"v":27.5,"k":1},{"p":7,"m":"R10","t":35,"v":27.5},

      {"p":8,"m":"O","t":0,"v":0},{"p":8,"m":"O","t":1,"v":25},{"p":8,"m":"O","t":2,"v":63},{"p":8,"m":"O","t":3,"v":110},{"p":8,"m":"O","t":4,"v":118},{"p":8,"m":"O","t":5,"v":120.8,"k":1},{"p":8,"m":"O","t":32,"v":120.8},
      {"p":8,"m":"C2","t":0,"v":0},{"p":8,"m":"C2","t":1,"v":25},{"p":8,"m":"C2","t":2,"v":49},{"p":8,"m":"C2","t":3,"v":71},{"p":8,"m":"C2","t":4,"v":89},{"p":8,"m":"C2","t":5,"v":104},{"p":8,"m":"C2","t":6,"v":115},{"p":8,"m":"C2","t":7,"v":122,"k":1},{"p":8,"m":"C2","t":32,"v":122},
      {"p":8,"m":"C3","t":0,"v":0},{"p":8,"m":"C3","t":1,"v":30},{"p":8,"m":"C3","t":2,"v":58},{"p":8,"m":"C3","t":3,"v":83},{"p":8,"m":"C3","t":4,"v":104},{"p":8,"m":"C3","t":5,"v":120.5,"k":1},{"p":8,"m":"C3","t":32,"v":120.5},
      {"p":8,"m":"G2","t":0,"v":0},{"p":8,"m":"G2","t":1,"v":33},{"p":8,"m":"G2","t":2,"v":61},{"p":8,"m":"G2","t":3,"v":84},{"p":8,"m":"G2","t":4,"v":103},{"p":8,"m":"G2","t":5,"v":117,"k":1},{"p":8,"m":"G2","t":32,"v":117},
      {"p":8,"m":"R5","t":0,"v":0},{"p":8,"m":"R5","t":1,"v":54.4},{"p":8,"m":"R5","t":2,"v":81.5},{"p":8,"m":"R5","t":3,"v":95.1},{"p":8,"m":"R5","t":4,"v":101.9},{"p":8,"m":"R5","t":5,"v":105.3},{"p":8,"m":"R5","t":6,"v":107},{"p":8,"m":"R5","t":9,"v":108.7,"k":1},{"p":8,"m":"R5","t":32,"v":108.7},
      {"p":8,"m":"G5","t":0,"v":0},{"p":8,"m":"G5","t":1,"v":60},{"p":8,"m":"G5","t":2,"v":103.8,"k":1},{"p":8,"m":"G5","t":32,"v":103.8},
      {"p":8,"m":"C5","t":0,"v":0},{"p":8,"m":"C5","t":1,"v":38},{"p":8,"m":"C5","t":2,"v":73},{"p":8,"m":"C5","t":3,"v":103.3,"k":1},{"p":8,"m":"C5","t":32,"v":103.3},
      {"p":8,"m":"R2","t":0,"v":0},{"p":8,"m":"R2","t":1,"v":38},{"p":8,"m":"R2","t":2,"v":63},{"p":8,"m":"R2","t":3,"v":78},{"p":8,"m":"R2","t":4,"v":87},{"p":8,"m":"R2","t":5,"v":92.5},{"p":8,"m":"R2","t":6,"v":96},{"p":8,"m":"R2","t":8,"v":100},{"p":8,"m":"R2","t":10,"v":102},{"p":8,"m":"R2","t":13,"v":103.3},{"p":8,"m":"R2","t":21,"v":103.8,"k":1},{"p":8,"m":"R2","t":32,"v":103.8},
      {"p":8,"m":"G1","t":0,"v":0},{"p":8,"m":"G1","t":1,"v":23.3},{"p":8,"m":"G1","t":2,"v":41.5},{"p":8,"m":"G1","t":3,"v":55.6},{"p":8,"m":"G1","t":4,"v":66.6},{"p":8,"m":"G1","t":5,"v":75.3},{"p":8,"m":"G1","t":6,"v":82},{"p":8,"m":"G1","t":8,"v":91.3},{"p":8,"m":"G1","t":10,"v":97,"k":1},{"p":8,"m":"G1","t":32,"v":97},
      {"p":8,"m":"C10","t":0,"v":0},{"p":8,"m":"C10","t":1,"v":45},{"p":8,"m":"C10","t":2,"v":84.7,"k":1},{"p":8,"m":"C10","t":32,"v":84.7},
      {"p":8,"m":"R1","t":0,"v":0},{"p":8,"m":"R1","t":1,"v":14.3},{"p":8,"m":"R1","t":2,"v":25.9},{"p":8,"m":"R1","t":3,"v":35.5},{"p":8,"m":"R1","t":4,"v":43.4},{"p":8,"m":"R1","t":5,"v":49.8},{"p":8,"m":"R1","t":6,"v":55.1},{"p":8,"m":"R1","t":8,"v":63},{"p":8,"m":"R1","t":10,"v":68.3},{"p":8,"m":"R1","t":12,"v":71.9},{"p":8,"m":"R1","t":15,"v":75.2},{"p":8,"m":"R1","t":20,"v":77.7},{"p":8,"m":"R1","t":25,"v":78.6},{"p":8,"m":"R1","t":32,"v":79.2,"k":1},
      {"p":8,"m":"G10","t":0,"v":0},{"p":8,"m":"G10","t":1,"v":56,"k":1},{"p":8,"m":"G10","t":32,"v":56},
      {"p":8,"m":"R10","t":0,"v":0},{"p":8,"m":"R10","t":1,"v":56,"k":1},{"p":8,"m":"R10","t":32,"v":56},

      {"p":9,"m":"O","t":0,"v":0},{"p":9,"m":"O","t":1,"v":42},{"p":9,"m":"O","t":2,"v":84},{"p":9,"m":"O","t":3,"v":125.5},{"p":9,"m":"O","t":4,"v":128.5},{"p":9,"m":"O","t":5,"v":129.7,"k":1},{"p":9,"m":"O","t":35,"v":129.7},
      {"p":9,"m":"C3","t":0,"v":0},{"p":9,"m":"C3","t":1,"v":36},{"p":9,"m":"C3","t":2,"v":70},{"p":9,"m":"C3","t":3,"v":101},{"p":9,"m":"C3","t":4,"v":128.8,"k":1},{"p":9,"m":"C3","t":35,"v":128.8},
      {"p":9,"m":"G2","t":0,"v":0},{"p":9,"m":"G2","t":1,"v":35},{"p":9,"m":"G2","t":2,"v":65},{"p":9,"m":"G2","t":3,"v":90},{"p":9,"m":"G2","t":4,"v":110},{"p":9,"m":"G2","t":5,"v":124,"k":1},{"p":9,"m":"G2","t":35,"v":124},
      {"p":9,"m":"C2","t":0,"v":0},{"p":9,"m":"C2","t":1,"v":25},{"p":9,"m":"C2","t":2,"v":49},{"p":9,"m":"C2","t":3,"v":71},{"p":9,"m":"C2","t":4,"v":91},{"p":9,"m":"C2","t":5,"v":108},{"p":9,"m":"C2","t":6,"v":123.3,"k":1},{"p":9,"m":"C2","t":35,"v":123.3},
      {"p":9,"m":"R5","t":0,"v":0},{"p":9,"m":"R5","t":1,"v":59.8},{"p":9,"m":"R5","t":2,"v":89.7},{"p":9,"m":"R5","t":3,"v":104.7},{"p":9,"m":"R5","t":4,"v":112.1},{"p":9,"m":"R5","t":5,"v":115.9},{"p":9,"m":"R5","t":6,"v":117.7},{"p":9,"m":"R5","t":9,"v":119.6,"k":1},{"p":9,"m":"R5","t":35,"v":119.6},
      {"p":9,"m":"G5","t":0,"v":0},{"p":9,"m":"G5","t":1,"v":68},{"p":9,"m":"G5","t":2,"v":117.6,"k":1},{"p":9,"m":"G5","t":35,"v":117.6},
      {"p":9,"m":"C5","t":0,"v":0},{"p":9,"m":"C5","t":1,"v":40},{"p":9,"m":"C5","t":2,"v":76},{"p":9,"m":"C5","t":3,"v":106.6,"k":1},{"p":9,"m":"C5","t":35,"v":106.6},
      {"p":9,"m":"R2","t":0,"v":0},{"p":9,"m":"R2","t":1,"v":40},{"p":9,"m":"R2","t":2,"v":65},{"p":9,"m":"R2","t":3,"v":81},{"p":9,"m":"R2","t":4,"v":90},{"p":9,"m":"R2","t":5,"v":96},{"p":9,"m":"R2","t":6,"v":99.5},{"p":9,"m":"R2","t":8,"v":103.5},{"p":9,"m":"R2","t":10,"v":105.5},{"p":9,"m":"R2","t":13,"v":107},{"p":9,"m":"R2","t":21,"v":107.5,"k":1},{"p":9,"m":"R2","t":35,"v":107.5},
      {"p":9,"m":"G1","t":0,"v":0},{"p":9,"m":"G1","t":1,"v":23.5},{"p":9,"m":"G1","t":2,"v":41.9},{"p":9,"m":"G1","t":3,"v":56.2},{"p":9,"m":"G1","t":4,"v":67.3},{"p":9,"m":"G1","t":5,"v":76.1},{"p":9,"m":"G1","t":6,"v":82.9},{"p":9,"m":"G1","t":8,"v":92.3},{"p":9,"m":"G1","t":10,"v":98,"k":1},{"p":9,"m":"G1","t":35,"v":98},
      {"p":9,"m":"C10","t":0,"v":0},{"p":9,"m":"C10","t":1,"v":48},{"p":9,"m":"C10","t":2,"v":88.8,"k":1},{"p":9,"m":"C10","t":35,"v":88.8},
      {"p":9,"m":"R1","t":0,"v":0},{"p":9,"m":"R1","t":1,"v":14.5},{"p":9,"m":"R1","t":2,"v":26.4},{"p":9,"m":"R1","t":3,"v":36.2},{"p":9,"m":"R1","t":4,"v":44.2},{"p":9,"m":"R1","t":5,"v":50.8},{"p":9,"m":"R1","t":6,"v":56.2},{"p":9,"m":"R1","t":8,"v":64.2},{"p":9,"m":"R1","t":10,"v":69.6},{"p":9,"m":"R1","t":12,"v":73.2},{"p":9,"m":"R1","t":15,"v":76.6},{"p":9,"m":"R1","t":20,"v":79.2},{"p":9,"m":"R1","t":25,"v":80.1},{"p":9,"m":"R1","t":35,"v":80.7,"k":1},
      {"p":9,"m":"G10","t":0,"v":0},{"p":9,"m":"G10","t":1,"v":71.2,"k":1},{"p":9,"m":"G10","t":35,"v":71.2},
      {"p":9,"m":"R10","t":0,"v":0},{"p":9,"m":"R10","t":1,"v":71.2,"k":1},{"p":9,"m":"R10","t":35,"v":71.2}
    ]
  },
  "spacing": 20,
  "vconcat": [
    {
      "width": 969,
      "height": 2,
      "view": {"fill": "black", "stroke": null},
      "data": {"values": [{}]},
      "mark": {"type": "point", "opacity": 0},
      "encoding": {}
    },
    {
      "title": {"text": ["Real-world inspired experiments on actual ICPSR HIV disease network", "30 runs with maximum budget 𝑏 = 200"], "fontSize": 17, "fontWeight": "normal", "lineHeight": 32, "anchor": "middle", "offset": 10, "color": "black"},
      "spacing": 20,
      "hconcat": [
        {
          "width": 18,
          "height": 592,
          "view": {"stroke": null},
          "data": {"values": [{"label": "Accumulated discounted reward"}]},
          "mark": {"type": "text", "angle": 270, "fontSize": 17, "color": "black", "align": "center", "baseline": "middle"},
          "encoding": {"text": {"field": "label", "type": "nominal"}}
        },
        {
          "title": {"text": "Time step", "orient": "bottom", "anchor": "middle", "fontSize": 17, "fontWeight": "normal", "offset": 7, "color": "black"},
          "data": {"name": "curves"},
          "transform": [
            {"lookup": "m", "from": {"data": {"name": "methods"}, "key": "m", "fields": ["name", "f"]}},
            {"lookup": "p", "from": {"data": {"name": "panels"}, "key": "p", "fields": ["g", "n", "lab"]}},
            {"calculate": "datum.k == 1 ? datum.t : 0", "as": "km"},
            {"joinaggregate": [{"op": "max", "field": "km", "as": "T"}], "groupby": ["p", "m"]}
          ],
          "spacing": 14,
          "vconcat": [
            {
              "transform": [{"filter": "datum.g == 0.5"}],
              "facet": {"column": {"field": "lab", "type": "nominal", "title": null, "sort": {"field": "n", "op": "max"}}},
              "spacing": 0,
              "resolve": {"scale": {"x": "independent", "y": "independent"}},
              "spec": {
                "width": 283,
                "height": 167,
                "encoding": {
                  "x": {"field": "t", "type": "quantitative", "title": null, "scale": {"nice": false, "zero": false, "padding": 13}, "axis": {"values": [0, 10, 20, 30]}},
                  "y": {"field": "v", "type": "quantitative", "title": null, "scale": {"nice": false, "zero": false, "padding": 7.6}, "axis": {"values": [0, 20, 40, 60, 80, 100]}}
                },
                "layer": [
                  {"transform": [{"filter": "datum.t < 0"}], "mark": {"type": "point", "filled": false, "size": 100, "strokeWidth": 1.5, "opacity": 1}, "encoding": {
                    "color": {"field": "name", "type": "nominal", "scale": {"domain": ["Const(2)", "Const(5)", "Greedy(0.1)", "Greedy(0.5)", "GreedyRemainder(0.1)", "GreedyRemainder(0.5)", "Const(3)", "Const(10)", "Greedy(0.2)", "Greedy(1.0)", "GreedyRemainder(0.2)", "GreedyRemainder(1.0)"], "range": ["#d9f0a3", "#41ab5d", "#fed282", "#f46d5a", "#b5e3c1", "#4a8fd1", "#93d07a", "#2a7d52", "#fca05f", "#cc3f5a", "#58c3d3", "#4b3f93"]}, "legend": {"title": "━━☆━━  πᵒᵘʳ", "symbolOpacity": 1}},
                    "shape": {"field": "name", "type": "nominal", "scale": {"domain": ["Const(2)", "Const(5)", "Greedy(0.1)", "Greedy(0.5)", "GreedyRemainder(0.1)", "GreedyRemainder(0.5)", "Const(3)", "Const(10)", "Greedy(0.2)", "Greedy(1.0)", "GreedyRemainder(0.2)", "GreedyRemainder(1.0)"], "range": [
                      "M-2.6,0h0.3M-2,0h0.3M-1.4,0h0.3M1.1,0h0.3M1.7,0h0.3M2.3,0h0.3M-0.8,-0.8L0.8,0.8M-0.8,0.8L0.8,-0.8",
                      "M-2.6,0h0.3M-2,0h0.3M-1.4,0h0.3M1.1,0h0.3M1.7,0h0.3M2.3,0h0.3M-0.8,-0.8L0.8,0.8M-0.8,0.8L0.8,-0.8",
                      "M-2.6,0H-1.1M1.1,0H1.8M2.2,0H2.5M0,-0.95L0.9,0.7H-0.9Z",
                      "M-2.6,0H-1.1M1.1,0H1.8M2.2,0H2.5M0,-0.95L0.9,0.7H-0.9Z",
                      "M-2.6,0H-1.8M-1.4,0H-0.9M0.9,0H1.4M1.8,0H2.6M-0.85,0A0.85,0.85,0,1,0,0.85,0A0.85,0.85,0,1,0,-0.85,0Z",
                      "M-2.6,0H-1.8M-1.4,0H-0.9M0.9,0H1.4M1.8,0H2.6M-0.85,0A0.85,0.85,0,1,0,0.85,0A0.85,0.85,0,1,0,-0.85,0Z",
                      "M-2.6,0h0.3M-2,0h0.3M-1.4,0h0.3M1.1,0h0.3M1.7,0h0.3M2.3,0h0.3M-0.8,-0.8L0.8,0.8M-0.8,0.8L0.8,-0.8",
                      "M-2.6,0h0.3M-2,0h0.3M-1.4,0h0.3M1.1,0h0.3M1.7,0h0.3M2.3,0h0.3M-0.8,-0.8L0.8,0.8M-0.8,0.8L0.8,-0.8",
                      "M-2.6,0H-1.1M1.1,0H1.8M2.2,0H2.5M0,-0.95L0.9,0.7H-0.9Z",
                      "M-2.6,0H-1.1M1.1,0H1.8M2.2,0H2.5M0,-0.95L0.9,0.7H-0.9Z",
                      "M-2.6,0H-1.8M-1.4,0H-0.9M0.9,0H1.4M1.8,0H2.6M-0.85,0A0.85,0.85,0,1,0,0.85,0A0.85,0.85,0,1,0,-0.85,0Z",
                      "M-2.6,0H-1.8M-1.4,0H-0.9M0.9,0H1.4M1.8,0H2.6M-0.85,0A0.85,0.85,0,1,0,0.85,0A0.85,0.85,0,1,0,-0.85,0Z"
                    ]}}
                  }},
                  {"transform": [{"filter": "datum.m != 'O' && datum.t <= datum.T"}], "mark": {"type": "line", "strokeWidth": 7, "opacity": 0.28, "interpolate": "monotone", "strokeCap": "round"}, "encoding": {"stroke": {"field": "name", "type": "nominal", "legend": null, "scale": {"domain": ["Const(2)", "Const(5)", "Greedy(0.1)", "Greedy(0.5)", "GreedyRemainder(0.1)", "GreedyRemainder(0.5)", "Const(3)", "Const(10)", "Greedy(0.2)", "Greedy(1.0)", "GreedyRemainder(0.2)", "GreedyRemainder(1.0)"], "range": ["#d9f0a3", "#41ab5d", "#fed282", "#f46d5a", "#b5e3c1", "#4a8fd1", "#93d07a", "#2a7d52", "#fca05f", "#cc3f5a", "#58c3d3", "#4b3f93"]}}}},
                  {"transform": [{"filter": "datum.m == 'O' && datum.t >= datum.T - 2 && datum.t <= datum.T"}], "mark": {"type": "line", "strokeWidth": 11, "color": "#8c8c8c", "opacity": 0.5, "interpolate": "monotone", "strokeCap": "round"}, "encoding": {}},
                  {"transform": [{"filter": "datum.m != 'O'"}], "mark": {"type": "line", "strokeWidth": 2, "opacity": 0.9, "interpolate": "monotone"}, "encoding": {"stroke": {"field": "name", "type": "nominal", "legend": null}, "strokeDash": {"field": "name", "type": "nominal", "legend": null, "scale": {"domain": ["Const(2)", "Const(5)", "Greedy(0.1)", "Greedy(0.5)", "GreedyRemainder(0.1)", "GreedyRemainder(0.5)", "Const(3)", "Const(10)", "Greedy(0.2)", "Greedy(1.0)", "GreedyRemainder(0.2)", "GreedyRemainder(1.0)"], "range": [[1.5, 3], [1.5, 3], [7, 3, 1.5, 3], [7, 3, 1.5, 3], [6, 4], [6, 4], [1.5, 3], [1.5, 3], [7, 3, 1.5, 3], [7, 3, 1.5, 3], [6, 4], [6, 4]]}}}},
                  {"transform": [{"filter": "datum.m == 'O'"}], "mark": {"type": "line", "color": "black", "strokeWidth": 2.2}, "encoding": {}},
                  {"transform": [{"filter": "datum.k == 1 && datum.f == 'C'"}], "mark": {"type": "point", "shape": "M-1,-1L1,1M-1,1L1,-1", "filled": false, "size": 50, "strokeWidth": 1.2, "opacity": 0.9}, "encoding": {"stroke": {"field": "name", "type": "nominal", "legend": null}}},
                  {"transform": [{"filter": "datum.k == 1 && datum.f == 'G'"}], "mark": {"type": "point", "shape": "triangle-up", "filled": false, "size": 90, "strokeWidth": 1.2, "opacity": 0.9}, "encoding": {"stroke": {"field": "name", "type": "nominal", "legend": null}}},
                  {"transform": [{"filter": "datum.k == 1 && datum.f == 'R'"}], "mark": {"type": "point", "shape": "circle", "filled": false, "size": 85, "strokeWidth": 1.2, "opacity": 0.9}, "encoding": {"stroke": {"field": "name", "type": "nominal", "legend": null}}},
                  {"transform": [{"filter": "datum.k == 1 && datum.m == 'O'"}], "mark": {"type": "point", "shape": "M0,-1L0.235,-0.324L0.951,-0.309L0.38,0.124L0.588,0.809L0,0.4L-0.588,0.809L-0.38,0.124L-0.951,-0.309L-0.235,-0.324Z", "filled": true, "fill": "white", "stroke": "black", "strokeWidth": 1.2, "size": 200, "opacity": 1}, "encoding": {}}
                ]
              }
            },
            {
              "transform": [{"filter": "datum.g == 0.7"}],
              "facet": {"column": {"field": "lab", "type": "nominal", "title": null, "sort": {"field": "n", "op": "max"}}},
              "spacing": 0,
              "resolve": {"scale": {"x": "independent", "y": "independent"}},
              "spec": {
                "width": 283,
                "height": 167,
                "encoding": {
                  "x": {"field": "t", "type": "quantitative", "title": null, "scale": {"nice": false, "zero": false, "padding": 13}, "axis": {"values": [0, 10, 20, 30]}},
                  "y": {"field": "v", "type": "quantitative", "title": null, "scale": {"nice": false, "zero": false, "padding": 7.6}, "axis": {"values": [0, 20, 40, 60, 80, 100]}}
                },
                "layer": [
                  {"transform": [{"filter": "datum.m != 'O' && datum.t <= datum.T"}], "mark": {"type": "line", "strokeWidth": 7, "opacity": 0.28, "interpolate": "monotone", "strokeCap": "round"}, "encoding": {"stroke": {"field": "name", "type": "nominal", "legend": null}}},
                  {"transform": [{"filter": "datum.m == 'O' && datum.t >= datum.T - 2 && datum.t <= datum.T"}], "mark": {"type": "line", "strokeWidth": 11, "color": "#8c8c8c", "opacity": 0.5, "interpolate": "monotone", "strokeCap": "round"}, "encoding": {}},
                  {"transform": [{"filter": "datum.m != 'O'"}], "mark": {"type": "line", "strokeWidth": 2, "opacity": 0.9, "interpolate": "monotone"}, "encoding": {"stroke": {"field": "name", "type": "nominal", "legend": null}, "strokeDash": {"field": "name", "type": "nominal", "legend": null}}},
                  {"transform": [{"filter": "datum.m == 'O'"}], "mark": {"type": "line", "color": "black", "strokeWidth": 2.2}, "encoding": {}},
                  {"transform": [{"filter": "datum.k == 1 && datum.f == 'C'"}], "mark": {"type": "point", "shape": "M-1,-1L1,1M-1,1L1,-1", "filled": false, "size": 50, "strokeWidth": 1.2, "opacity": 0.9}, "encoding": {"stroke": {"field": "name", "type": "nominal", "legend": null}}},
                  {"transform": [{"filter": "datum.k == 1 && datum.f == 'G'"}], "mark": {"type": "point", "shape": "triangle-up", "filled": false, "size": 90, "strokeWidth": 1.2, "opacity": 0.9}, "encoding": {"stroke": {"field": "name", "type": "nominal", "legend": null}}},
                  {"transform": [{"filter": "datum.k == 1 && datum.f == 'R'"}], "mark": {"type": "point", "shape": "circle", "filled": false, "size": 85, "strokeWidth": 1.2, "opacity": 0.9}, "encoding": {"stroke": {"field": "name", "type": "nominal", "legend": null}}},
                  {"transform": [{"filter": "datum.k == 1 && datum.m == 'O'"}], "mark": {"type": "point", "shape": "M0,-1L0.235,-0.324L0.951,-0.309L0.38,0.124L0.588,0.809L0,0.4L-0.588,0.809L-0.38,0.124L-0.951,-0.309L-0.235,-0.324Z", "filled": true, "fill": "white", "stroke": "black", "strokeWidth": 1.2, "size": 200, "opacity": 1}, "encoding": {}}
                ]
              }
            },
            {
              "transform": [{"filter": "datum.g == 0.9"}],
              "facet": {"column": {"field": "lab", "type": "nominal", "title": null, "sort": {"field": "n", "op": "max"}}},
              "spacing": 0,
              "resolve": {"scale": {"x": "independent", "y": "independent"}},
              "spec": {
                "width": 283,
                "height": 167,
                "encoding": {
                  "x": {"field": "t", "type": "quantitative", "title": null, "scale": {"nice": false, "zero": false, "padding": 13}, "axis": {"values": [0, 10, 20, 30]}},
                  "y": {"field": "v", "type": "quantitative", "title": null, "scale": {"nice": false, "zero": false, "padding": 7.6}, "axis": {"values": [0, 25, 50, 75, 100, 125]}}
                },
                "layer": [
                  {"transform": [{"filter": "datum.m != 'O' && datum.t <= datum.T"}], "mark": {"type": "line", "strokeWidth": 7, "opacity": 0.28, "interpolate": "monotone", "strokeCap": "round"}, "encoding": {"stroke": {"field": "name", "type": "nominal", "legend": null}}},
                  {"transform": [{"filter": "datum.m == 'O' && datum.t >= datum.T - 2 && datum.t <= datum.T"}], "mark": {"type": "line", "strokeWidth": 11, "color": "#8c8c8c", "opacity": 0.5, "interpolate": "monotone", "strokeCap": "round"}, "encoding": {}},
                  {"transform": [{"filter": "datum.m != 'O'"}], "mark": {"type": "line", "strokeWidth": 2, "opacity": 0.9, "interpolate": "monotone"}, "encoding": {"stroke": {"field": "name", "type": "nominal", "legend": null}, "strokeDash": {"field": "name", "type": "nominal", "legend": null}}},
                  {"transform": [{"filter": "datum.m == 'O'"}], "mark": {"type": "line", "color": "black", "strokeWidth": 2.2}, "encoding": {}},
                  {"transform": [{"filter": "datum.k == 1 && datum.f == 'C'"}], "mark": {"type": "point", "shape": "M-1,-1L1,1M-1,1L1,-1", "filled": false, "size": 50, "strokeWidth": 1.2, "opacity": 0.9}, "encoding": {"stroke": {"field": "name", "type": "nominal", "legend": null}}},
                  {"transform": [{"filter": "datum.k == 1 && datum.f == 'G'"}], "mark": {"type": "point", "shape": "triangle-up", "filled": false, "size": 90, "strokeWidth": 1.2, "opacity": 0.9}, "encoding": {"stroke": {"field": "name", "type": "nominal", "legend": null}}},
                  {"transform": [{"filter": "datum.k == 1 && datum.f == 'R'"}], "mark": {"type": "point", "shape": "circle", "filled": false, "size": 85, "strokeWidth": 1.2, "opacity": 0.9}, "encoding": {"stroke": {"field": "name", "type": "nominal", "legend": null}}},
                  {"transform": [{"filter": "datum.k == 1 && datum.m == 'O'"}], "mark": {"type": "point", "shape": "M0,-1L0.235,-0.324L0.951,-0.309L0.38,0.124L0.588,0.809L0,0.4L-0.588,0.809L-0.38,0.124L-0.951,-0.309L-0.235,-0.324Z", "filled": true, "fill": "white", "stroke": "black", "strokeWidth": 1.2, "size": 200, "opacity": 1}, "encoding": {}}
                ]
              }
            }
          ]
        }
      ]
    }
  ],
  "config": {
    "font": "DejaVu Sans",
    "view": {"stroke": "#a6a6a6", "strokeWidth": 1},
    "axis": {"domain": false, "grid": false, "tickColor": "#333333", "tickSize": 3.5, "labelFontSize": 12.5, "labelColor": "black", "labelPadding": 2},
    "axisY": {"minExtent": 27, "maxExtent": 27},
    "header": {"labelFontSize": 15, "labelPadding": -12, "labelColor": "black"},
    "legend": {"orient": "bottom", "columns": 6, "labelFontSize": 12, "labelColor": "black", "symbolStrokeWidth": 1.5, "symbolSize": 100, "symbolOpacity": 1, "labelOffset": 18, "symbolOffset": 14, "columnPadding": 16, "rowPadding": 3, "strokeColor": "#d0d0d0", "padding": 6, "cornerRadius": 4, "titleFontSize": 14, "titleFontWeight": "normal", "titleAnchor": "middle", "titleColor": "black", "titlePadding": 0, "offset": 8, "layout": {"bottom": {"anchor": "middle"}}}
  }
}
